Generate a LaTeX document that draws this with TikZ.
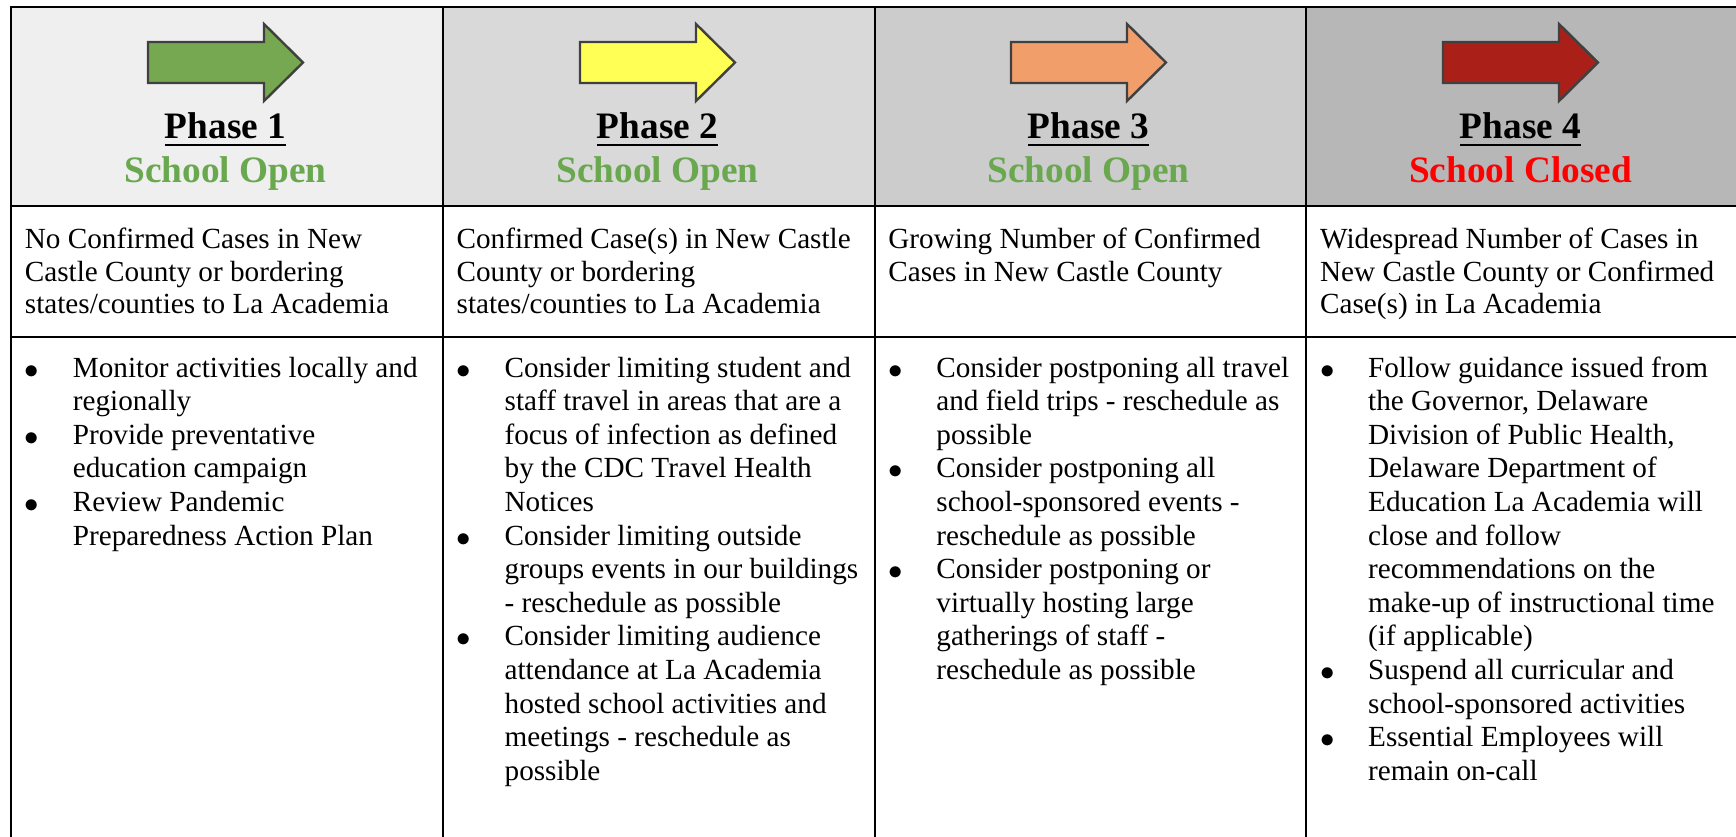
\documentclass[tikz,border=0pt]{standalone}
\usepackage{fontspec}
\setmainfont{Liberation Serif}
\usetikzlibrary{positioning}

\definecolor{hdrOne}{HTML}{EFEFEF}
\definecolor{hdrTwo}{HTML}{D9D9D9}
\definecolor{hdrThree}{HTML}{CCCCCC}
\definecolor{hdrFour}{HTML}{B7B7B7}
\definecolor{arGreen}{RGB}{118,168,81}
\definecolor{arYellow}{RGB}{255,255,85}
\definecolor{arOrange}{RGB}{241,158,107}
\definecolor{arRed}{RGB}{170,32,24}
\definecolor{openGreen}{HTML}{6AA84F}
\definecolor{closedRed}{HTML}{FF0000}

\newcommand\phaseul[1]{\setbox0\hbox{#1}\rlap{\rule[-4.2pt]{\wd0}{1.4pt}}\box0}
\newcommand\actbul{\raisebox{-0.5pt}{$\bullet$}}

\tikzset{
  cell/.style={rectangle,draw,line width=1pt,anchor=north west,inner sep=0pt,outer sep=0pt,minimum width=215.875pt},
  phase/.style={anchor=base,inner sep=0pt,font=\bfseries\fontsize{18.65pt}{22pt}\selectfont},
  status/.style={anchor=base,inner sep=0pt,font=\bfseries\fontsize{18.65pt}{22pt}\selectfont},
  cond/.style={anchor=base west,inner sep=0pt,font=\fontsize{14.6pt}{16.4pt}\selectfont},
  todo/.style={anchor=base west,inner sep=0pt,font=\fontsize{14.6pt}{16.8pt}\selectfont},
  phasearrow/.style={draw=black!75,line width=1.2pt,line join=miter}
}

\begin{document}
\begin{tikzpicture}[x=0.5pt,y=-0.5pt]
\useasboundingbox (0,0) rectangle (1736,836);
\fill[white] (0,0) rectangle (1736,836);

% header cells
\node[cell,fill=hdrOne,minimum height=99.5pt] (hd1) at (11,7) {};
\node[cell,fill=hdrTwo,minimum height=99.5pt] (hd2) at (442.75,7) {};
\node[cell,fill=hdrThree,minimum height=99.5pt] (hd3) at (874.5,7) {};
\node[cell,fill=hdrFour,minimum height=99.5pt] (hd4) at (1306.25,7) {};

% condition cells
\node[cell,minimum height=65.35pt] (cs1) at (11,206) {};
\node[cell,minimum height=65.35pt] (cs2) at (442.75,206) {};
\node[cell,minimum height=65.35pt] (cs3) at (874.5,206) {};
\node[cell,minimum height=65.35pt] (cs4) at (1306.25,206) {};

% action cells
\node[cell,minimum height=262pt] (as1) at (11,336.7) {};
\node[cell,minimum height=262pt] (as2) at (442.75,336.7) {};
\node[cell,minimum height=262pt] (as3) at (874.5,336.7) {};
\node[cell,minimum height=262pt] (as4) at (1306.25,336.7) {};

% arrows
\coordinate (ar1) at (225.5,62.5);
\coordinate (ar2) at (657.5,62.5);
\coordinate (ar3) at (1088.5,62.5);
\coordinate (ar4) at (1520.5,62.5);
\draw[phasearrow,fill=arGreen] (ar1) ++(-77.5,-20.5) -- ++(116,0) -- ++(0,-18) -- ++(39,38.5) -- ++(-39,38.5) -- ++(0,-18) -- ++(-116,0) -- cycle;
\draw[phasearrow,fill=arYellow] (ar2) ++(-77.5,-20.5) -- ++(116,0) -- ++(0,-18) -- ++(39,38.5) -- ++(-39,38.5) -- ++(0,-18) -- ++(-116,0) -- cycle;
\draw[phasearrow,fill=arOrange] (ar3) ++(-77.5,-20.5) -- ++(116,0) -- ++(0,-18) -- ++(39,38.5) -- ++(-39,38.5) -- ++(0,-18) -- ++(-116,0) -- cycle;
\draw[phasearrow,fill=arRed] (ar4) ++(-77.5,-20.5) -- ++(116,0) -- ++(0,-18) -- ++(39,38.5) -- ++(-39,38.5) -- ++(0,-18) -- ++(-116,0) -- cycle;

% phase titles
\node[phase] (ph1) at (225.5,138) {\phaseul{Phase 1}};
\node[phase] (ph2) at (657.5,138) {\phaseul{Phase 2}};
\node[phase] (ph3) at (1088.5,138) {\phaseul{Phase 3}};
\node[phase] (ph4) at (1520.5,138) {\phaseul{Phase 4}};
\node[status,text=openGreen] (st1) at ([yshift=-22pt]ph1.base) {School Open};
\node[status,text=openGreen] (st2) at ([yshift=-22pt]ph2.base) {School Open};
\node[status,text=openGreen] (st3) at ([yshift=-22pt]ph3.base) {School Open};
\node[status,text=closedRed] (st4) at ([yshift=-22pt]ph4.base) {School Closed};

% conditions
\node[cond] (cond1) at (24.5,248.3) {\begin{tabular}[t]{@{}l@{}}
No Confirmed Cases in New\\
Castle County or bordering\\
states/counties to La Academia
\end{tabular}};
\node[cond] (cond2) at (456.25,248.3) {\begin{tabular}[t]{@{}l@{}}
Confirmed Case(s) in New Castle\\
County or bordering\\
states/counties to La Academia
\end{tabular}};
\node[cond] (cond3) at (888,248.3) {\begin{tabular}[t]{@{}l@{}}
Growing Number of Confirmed\\
Cases in New Castle County
\end{tabular}};
\node[cond] (cond4) at (1319.75,248.3) {\begin{tabular}[t]{@{}l@{}}
Widespread Number of Cases in\\
New Castle County or Confirmed\\
Case(s) in La Academia
\end{tabular}};

% actions
\node[todo] (act1) at (24.5,377) {\begin{tabular}[t]{@{}p{24pt}@{}l@{}}
\actbul & Monitor activities locally and\\
 & regionally\\
\actbul & Provide preventative\\
 & education campaign\\
\actbul & Review Pandemic\\
 & Preparedness Action Plan
\end{tabular}};
\node[todo] (act2) at (456.25,377) {\begin{tabular}[t]{@{}p{24pt}@{}l@{}}
\actbul & Consider limiting student and\\
 & staff travel in areas that are a\\
 & focus of infection as defined\\
 & by the CDC Travel Health\\
 & Notices\\
\actbul & Consider limiting outside\\
 & groups events in our buildings\\
 & - reschedule as possible\\
\actbul & Consider limiting audience\\
 & attendance at La Academia\\
 & hosted school activities and\\
 & meetings - reschedule as\\
 & possible
\end{tabular}};
\node[todo] (act3) at (888,377) {\begin{tabular}[t]{@{}p{24pt}@{}l@{}}
\actbul & Consider postponing all travel\\
 & and field trips - reschedule as\\
 & possible\\
\actbul & Consider postponing all\\
 & school-sponsored events -\\
 & reschedule as possible\\
\actbul & Consider postponing or\\
 & virtually hosting large\\
 & gatherings of staff -\\
 & reschedule as possible
\end{tabular}};
\node[todo] (act4) at (1319.75,377) {\begin{tabular}[t]{@{}p{24pt}@{}l@{}}
\actbul & Follow guidance issued from\\
 & the Governor, Delaware\\
 & Division of Public Health,\\
 & Delaware Department of\\
 & Education La Academia will\\
 & close and follow\\
 & recommendations on the\\
 & make-up of instructional time\\
 & (if applicable)\\
\actbul & Suspend all curricular and\\
 & school-sponsored activities\\
\actbul & Essential Employees will\\
 & remain on-call
\end{tabular}};
\end{tikzpicture}
\end{document}
